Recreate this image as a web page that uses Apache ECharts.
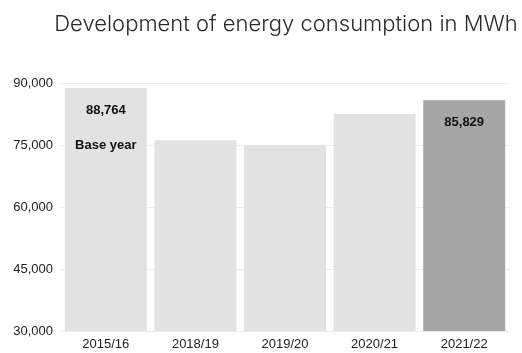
<!DOCTYPE html>
<html>
<head>
<meta charset="utf-8">
<script src="https://cdn.jsdelivr.net/npm/echarts@6/dist/echarts.min.js"></script>
<style>
  html, body { margin: 0; padding: 0; background: #fff; }
  #chart { width: 522px; height: 353px; }
</style>
</head>
<body>
<div id="chart"></div>
<script>
// Fiscal years shown on the category axis
const categories = ['2015/16', '2018/19', '2019/20', '2020/21', '2021/22'];
// Energy consumption per fiscal year, MWh
const consumption = [88764, 76150, 74850, 82500, 85829];
// Extra caption under a bar's value (the base year)
const notes = ['Base year', '', '', '', ''];
// Value labels are shown only on these bars
const labelled = [true, false, false, false, true];
// Y-axis range and step
const yMin = 30000, yMax = 90000, yStep = 15000;

const fmt = v => v.toLocaleString('en-US');
const font = 'Helvetica Neue, Liberation Sans, Arial, sans-serif';

const barData = consumption.map((v, i) => ({
  value: v,
  itemStyle: { color: i === categories.length - 1 ? '#a6a6a6' : '#e2e2e2' },
  label: {
    show: labelled[i],
    formatter: () => notes[i] ? '{v|' + fmt(v) + '}\n{n|' + notes[i] + '}' : '{v|' + fmt(v) + '}'
  }
}));

const chart = echarts.init(document.getElementById('chart'), null, { renderer: 'canvas' });
chart.setOption({
  animation: false,
  backgroundColor: '#ffffff',
  title: {
    text: 'Development of energy consumption in MWh',
    left: 281, textAlign: 'center', top: 8,
    textStyle: { fontFamily: 'Inter, sans-serif', fontWeight: 300, fontSize: 22, color: '#2b2b2b' }
  },
  grid: { left: 61, right: 13, top: 83, bottom: 22, containLabel: false },
  xAxis: {
    type: 'category',
    data: categories,
    axisLine: { show: true, lineStyle: { color: '#ececec', width: 1 } },
    axisTick: { show: false },
    axisLabel: { color: '#222', fontSize: 13, fontFamily: font, margin: 7 }
  },
  yAxis: {
    type: 'value',
    min: yMin, max: yMax, interval: yStep,
    axisLine: { show: false },
    axisTick: { show: false },
    splitLine: { lineStyle: { color: '#ececec', width: 1 } },
    axisLabel: { color: '#222', fontSize: 13, fontFamily: font, margin: 8, formatter: v => fmt(v) }
  },
  series: [{
    type: 'bar',
    data: barData,
    barCategoryGap: '8.5%',
    label: {
      position: 'insideTop',
      distance: 12,
      rich: {
        v: { fontSize: 13, fontWeight: 'bold', color: '#111', fontFamily: font, lineHeight: 20 },
        n: { fontSize: 13, fontWeight: 'bold', color: '#111', fontFamily: font, lineHeight: 50 }
      }
    }
  }]
});
</script>
</body>
</html>
